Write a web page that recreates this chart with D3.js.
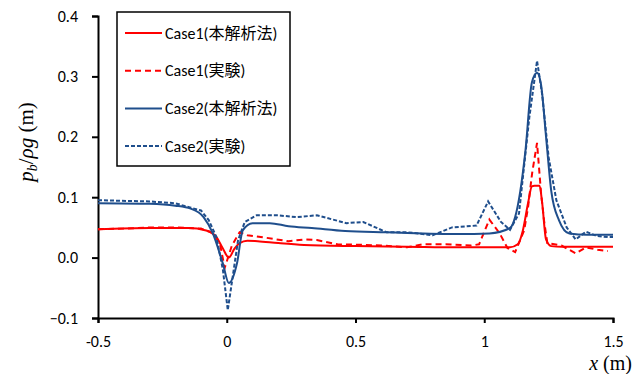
<!DOCTYPE html>
<html>
<head>
<meta charset="utf-8">
<script src="https://cdn.jsdelivr.net/npm/d3@7"></script>
<style>
  body { margin:0; background:#fff; }
  text { font-family: Carlito, Lato, "Noto Sans CJK JP", sans-serif; }
  .axis path, .axis line { stroke:#000; stroke-width:2; }
  .axis text { font-size:16px; fill:#000; }
</style>
</head>
<body>
<svg id="chart"></svg>
<script>
// x ticks / y ticks
var xTicks = [-0.5, 0, 0.5, 1, 1.5]
var yTicks = [-0.1, 0.0, 0.1, 0.2, 0.3, 0.4]

// Case1 本解析法
var case1SimX = [-0.5,-0.3,-0.15,-0.08,-0.04,-0.015,0.008,0.03,0.05,0.08,0.12,0.2,0.3,0.5,0.7,0.9,1.1,1.13,1.15,1.17,1.185,1.195,1.215,1.225,1.24,1.26,1.3,1.5]
var case1SimY = [0.047,0.049,0.049,0.045,0.034,0.015,0.0,0.015,0.024,0.028,0.027,0.024,0.021,0.019,0.018,0.017,0.017,0.022,0.045,0.09,0.118,0.119,0.119,0.09,0.03,0.019,0.018,0.018]

// Case1 実験
var case1ExpX = [-0.5,-0.4,-0.3,-0.2,-0.1,-0.05,-0.025,-0.008,0.02,0.05,0.08,0.15,0.24,0.3,0.35,0.43,0.54,0.6,0.7,0.76,0.85,0.95,0.98,1.02,1.06,1.09,1.12,1.155,1.17,1.186,1.205,1.22,1.232,1.245,1.3,1.355,1.395,1.44,1.48]
var case1ExpY = [0.047,0.048,0.05,0.05,0.048,0.04,0.02,-0.017,0.02,0.042,0.037,0.033,0.027,0.03,0.029,0.022,0.021,0.02,0.017,0.022,0.022,0.02,0.022,0.063,0.04,0.016,0.009,0.045,0.083,0.14,0.19,0.11,0.062,0.024,0.02,0.007,0.017,0.013,0.011]

// Case2 本解析法
var case2SimX = [-0.5,-0.3,-0.2,-0.14,-0.09,-0.054,-0.015,0.008,0.04,0.062,0.1,0.167,0.24,0.33,0.46,0.62,0.9,1.02,1.1,1.12,1.14,1.16,1.185,1.205,1.22,1.24,1.26,1.29,1.33,1.4,1.5]
var case2SimY = [0.09,0.089,0.086,0.081,0.067,0.04,-0.01,-0.042,-0.009,0.045,0.057,0.057,0.052,0.049,0.044,0.042,0.039,0.04,0.049,0.067,0.11,0.177,0.29,0.306,0.288,0.2,0.111,0.062,0.04,0.038,0.038]

// Case2 実験
var case2ExpX = [-0.5,-0.3,-0.2,-0.143,-0.1,-0.07,-0.04,-0.015,0.004,0.023,0.044,0.07,0.116,0.2,0.27,0.35,0.465,0.53,0.62,0.7,0.8,0.875,0.97,1.015,1.065,1.1,1.135,1.175,1.2,1.205,1.225,1.25,1.28,1.32,1.355,1.395,1.435,1.48,1.5]
var case2ExpY = [0.095,0.093,0.09,0.083,0.078,0.062,0.034,-0.02,-0.087,-0.032,0.029,0.059,0.07,0.07,0.067,0.07,0.057,0.059,0.042,0.042,0.037,0.05,0.053,0.093,0.059,0.046,0.073,0.232,0.31,0.326,0.27,0.166,0.095,0.05,0.03,0.043,0.036,0.034,0.034]

var seriesNames = ["Case1(本解析法)","Case1(実験)","Case2(本解析法)","Case2(実験)"]

var screen = {width:640,height:374}
var margins = {left:98,right:27,top:16,bottom:56}
var graph = {
    width:screen.width-margins.left-margins.right,
    height:screen.height-margins.top-margins.bottom
}

var svg = d3.select("#chart")
    .attr("width",screen.width)
    .attr("height",screen.height)

var xScale = d3.scaleLinear().domain([-0.5,1.5]).range([0,graph.width])
var yScale = d3.scaleLinear().domain([-0.1,0.4]).range([graph.height,0])

var target = svg.append("g")
    .attr("transform","translate("+margins.left+","+margins.top+")")

// axes
target.append("g")
    .attr("class","axis")
    .attr("transform","translate(0,"+graph.height+")")
    .call(d3.axisBottom(xScale).tickValues(xTicks).tickSize(5).tickPadding(13)
        .tickFormat(function(d){ return d==0 ? "0" : String(d) }))
target.append("g")
    .attr("class","axis")
    .call(d3.axisLeft(yScale).tickValues(yTicks).tickSize(6).tickPadding(14)
        .tickFormat(d3.format(".1f")))
target.selectAll(".axis .domain").attr("stroke-width",2.5)

var makeLine = function(xs,ys,curve){
    var pts = xs.map(function(x,i){ return [x,ys[i]] })
    return d3.line()
        .x(function(d){ return xScale(d[0]) })
        .y(function(d){ return yScale(d[1]) })
        .curve(curve)(pts)
}

var series = [
    {xs:case1SimX, ys:case1SimY, color:"#ff0000", dash:null, curve:d3.curveMonotoneX},
    {xs:case1ExpX, ys:case1ExpY, color:"#ff0000", dash:"6,4", curve:d3.curveLinear},
    {xs:case2SimX, ys:case2SimY, color:"#1f4e8c", dash:null, curve:d3.curveMonotoneX},
    {xs:case2ExpX, ys:case2ExpY, color:"#1f4e8c", dash:"4,2", curve:d3.curveLinear}
]

series.forEach(function(s){
    target.append("path")
        .attr("d",makeLine(s.xs,s.ys,s.curve))
        .attr("fill","none")
        .attr("stroke",s.color)
        .attr("stroke-width",2)
        .attr("stroke-dasharray",s.dash)
})

// legend
var legend = svg.append("g").attr("transform","translate(117,12)")
legend.append("rect")
    .attr("width",173).attr("height",154)
    .attr("fill","#fff").attr("stroke","#000").attr("stroke-width",1.5)
var entries = legend.selectAll("g.entry")
    .data(series)
    .enter().append("g")
    .attr("class","entry")
    .attr("transform",function(d,i){ return "translate(0,"+(21+i*37.7)+")" })
entries.append("line")
    .attr("x1",8).attr("x2",45)
    .attr("stroke",function(d){ return d.color })
    .attr("stroke-width",2)
    .attr("stroke-dasharray",function(d){ return d.dash })
entries.append("text")
    .text(function(d,i){ return seriesNames[i] })
    .attr("x",48).attr("y",5.5)
    .attr("font-size","16px")

// axis labels
var ylab = svg.append("text")
    .attr("transform","translate(33,142) rotate(-90)")
    .attr("text-anchor","middle")
    .style("font-family","'Liberation Serif', serif")
    .attr("font-size","21px")
ylab.append("tspan").attr("font-style","italic").text("p")
ylab.append("tspan").attr("font-style","italic").attr("font-size","14px").attr("dy",4).text("b")
ylab.append("tspan").attr("dy",-4).text("/")
ylab.append("tspan").attr("font-style","italic").text("ρg")
ylab.append("tspan").text(" (m)")

var xlab = svg.append("text")
    .attr("x",632).attr("y",370)
    .attr("text-anchor","end")
    .style("font-family","'Liberation Serif', serif")
    .attr("font-size","20px")
xlab.append("tspan").attr("font-style","italic").text("x")
xlab.append("tspan").text(" (m)")
</script>
</body>
</html>
